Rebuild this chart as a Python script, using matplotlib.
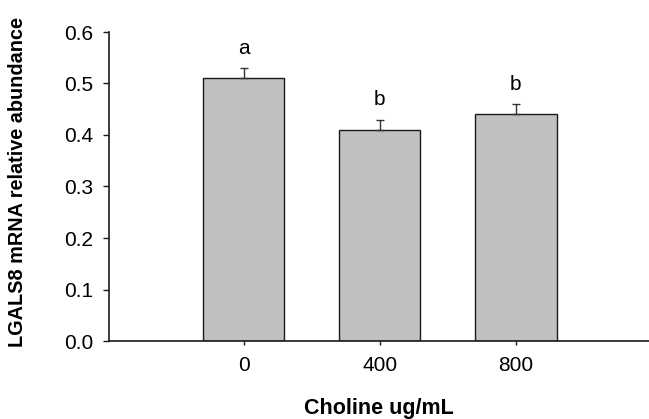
import matplotlib
matplotlib.use("Agg")
import matplotlib.pyplot as plt

categories = ["0", "400", "800"]
values = [0.51, 0.41, 0.44]
errors = [0.02, 0.02, 0.02]
letters = ["a", "b", "b"]
yticks = [0.0, 0.1, 0.2, 0.3, 0.4, 0.5, 0.6]

plt.rcParams['font.family'] = ['Liberation Sans', 'DejaVu Sans']

fig = plt.figure(figsize=(6.49, 4.19), dpi=100)
W, H = 649, 419
ax = fig.add_axes([109 / W, (H - 341) / H, (649 - 109) / W, (341 - 32) / H])

x = list(range(len(categories)))
ax.bar(x, values, width=0.6, color="#c0c0c0", edgecolor="#1a1a1a", linewidth=1.0, zorder=2)
ax.errorbar(x, values, yerr=[[0] * len(errors), errors], fmt="none",
            ecolor="#333333", elinewidth=1.0, capsize=3, capthick=1.0, zorder=3)
for xi, v, e, l in zip(x, values, errors, letters):
    ax.text(xi, v + e + 0.038, l, ha="center", va="center", fontsize=15)

ax.set_xlim(-0.99, 2.98)
ax.set_ylim(0, 0.6)
ax.set_xticks(x)
ax.set_xticklabels(categories, fontsize=15)
ax.set_yticks(yticks)
ax.set_yticklabels([f"{t:.1f}" for t in yticks], fontsize=15)
ax.tick_params(axis="y", direction="out", length=4.3, width=1, color="#1a1a1a", pad=7)
ax.tick_params(axis="x", direction="out", length=3, width=1, color="#1a1a1a", pad=8)
for s in ["top", "right"]:
    ax.spines[s].set_visible(False)
for s in ["left", "bottom"]:
    ax.spines[s].set_linewidth(1.2)
    ax.spines[s].set_color("#1a1a1a")

ax.set_xlabel("Choline ug/mL", fontsize=15.5, fontweight="bold", labelpad=16)
ax.set_ylabel("LGALS8 mRNA relative abundance", fontsize=14.3, fontweight="bold")
ax.yaxis.set_label_coords(-(109 - 27) / 540, 0.515)

fig.savefig("out.png", dpi=100)
